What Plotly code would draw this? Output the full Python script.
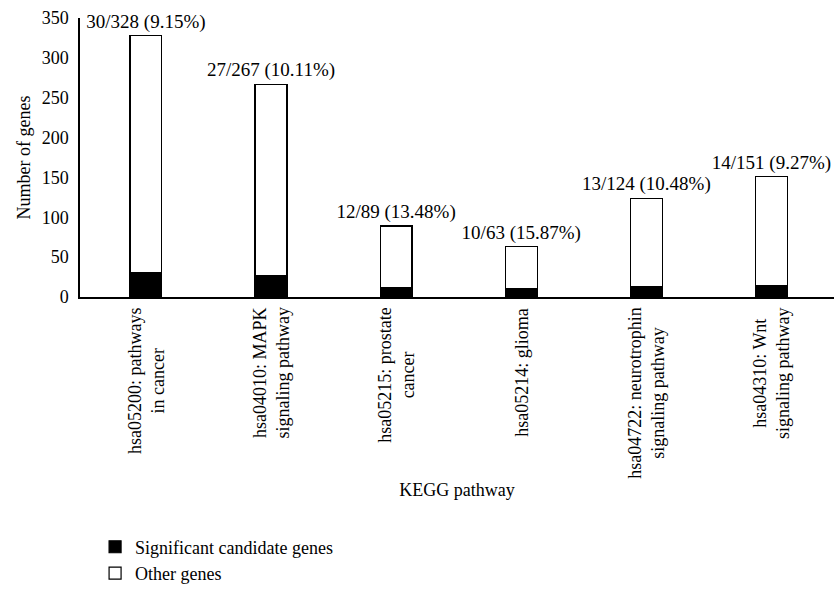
import plotly.graph_objects as go

categories = [
    "hsa05200: pathways<br>in cancer",
    "hsa04010: MAPK<br>signaling pathway",
    "hsa05215: prostate<br>cancer",
    "hsa05214: glioma",
    "hsa04722: neurotrophin<br>signaling pathway",
    "hsa04310: Wnt<br>signaling pathway",
]
significant = [30, 27, 12, 10, 13, 14]
other = [298, 240, 77, 53, 111, 137]
totals = [328, 267, 89, 63, 124, 151]
pct_labels = ["9.15%", "10.11%", "13.48%", "15.87%", "10.48%", "9.27%"]
y_ticks = [0, 50, 100, 150, 200, 250, 300, 350]

FONT = "Liberation Serif"
fs = 18

bar_labels = [f"{s}/{t} ({p})" for s, t, p in zip(significant, totals, pct_labels)]
xs = list(range(len(categories)))

fig = go.Figure()
fig.add_trace(go.Bar(
    x=xs, y=significant, name="Significant candidate genes",
    marker=dict(color="black", line=dict(color="black", width=1.2)),
))
fig.add_trace(go.Bar(
    x=xs, y=other, name="Other genes",
    marker=dict(color="white", line=dict(color="black", width=1.2)),
    text=bar_labels, textposition="outside", constraintext="none",
    cliponaxis=False, textfont=dict(family=FONT, size=19, color="black"),
))

annotations = []
for i, c in enumerate(categories):
    annotations.append(dict(
        x=i, xref="x", y=0, yref="y", yanchor="top", xanchor="center",
        yshift=-9, text=c, textangle=-90, showarrow=False, align="center",
        font=dict(family=FONT, size=fs, color="black"),
    ))

fig.update_layout(
    barmode="stack",
    bargap=0.745,
    width=834, height=610,
    margin=dict(l=80, r=0, t=18, b=313),
    plot_bgcolor="white", paper_bgcolor="white",
    font=dict(family=FONT, size=fs, color="black"),
    annotations=annotations,
    legend=dict(
        x=0.02, y=-0.83, xanchor="left", yanchor="top",
        orientation="v", traceorder="normal",
        font=dict(family=FONT, size=fs, color="black"),
        itemwidth=30, bgcolor="rgba(0,0,0,0)", tracegroupgap=0,
    ),
    xaxis=dict(
        range=[-0.527, 5.5], showticklabels=False, ticks="",
        showline=True, linecolor="black", linewidth=1.5,
        showgrid=False, zeroline=False,
        title=dict(text="KEGG pathway", standoff=186,
                   font=dict(family=FONT, size=fs, color="black")),
        fixedrange=True,
    ),
    yaxis=dict(
        range=[0, 350], tickvals=y_ticks, ticks="", ticklabelstandoff=6,
        showline=True, linecolor="black", linewidth=1.5,
        showgrid=False, zeroline=False,
        title=dict(text="Number of genes", standoff=6,
                   font=dict(family=FONT, size=fs, color="black")),
        tickfont=dict(family=FONT, size=fs, color="black"),
    ),
)

fig.write_html(
    "out.html",
    config={"displayModeBar": False},
    post_script="document.body.style.margin='0';document.body.style.padding='0';",
)
